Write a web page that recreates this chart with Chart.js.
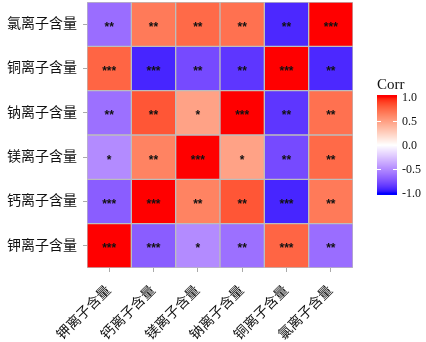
<!DOCTYPE html>
<html>
<head>
<meta charset="utf-8">
<script src="https://cdn.jsdelivr.net/npm/chart.js@4.4.1/dist/chart.umd.min.js"></script>
<style>
  html, body { margin:0; padding:0; background:#fff; }
</style>
</head>
<body>
<canvas id="heat" width="426" height="342"></canvas>
<script>
// variables, bottom-to-top on y and left-to-right on x
const ions = ['钾离子含量','钙离子含量','镁离子含量','钠离子含量','铜离子含量','氯离子含量'];

// correlation rows (row = y variable), columns in the same order as ions
const rK  = [ 1.00, -0.70, -0.50, -0.62,  0.76, -0.63];
const rCa = [-0.70,  1.00,  0.63,  0.82, -0.92,  0.67];
const rMg = [-0.50,  0.63,  1.00,  0.48, -0.78,  0.74];
const rNa = [-0.62,  0.82,  0.48,  1.00, -0.86,  0.71];
const rCu = [ 0.76, -0.92, -0.78, -0.86,  1.00, -0.91];
const rCl = [-0.63,  0.67,  0.74,  0.71, -0.91,  1.00];

// significance marks
const sK  = ['***','***','*','**','***','**'];
const sCa = ['***','***','**','**','***','**'];
const sMg = ['*','**','***','*','**','**'];
const sNa = ['**','**','*','***','**','**'];
const sCu = ['***','***','**','**','***','**'];
const sCl = ['**','**','**','**','**','***'];

const legendTicks = [1.0, 0.5, 0.0, -0.5, -1.0];

const corrRows  = [rK, rCa, rMg, rNa, rCu, rCl];
const starRows  = [sK, sCa, sMg, sNa, sCu, sCl];

// ── colour scale: white -> red / blue, interpolated in Lab ──────────
function lin(c){ c/=255; return c<=0.04045 ? c/12.92 : Math.pow((c+0.055)/1.055, 2.4); }
function gam(c){ c = c<=0.0031308 ? 12.92*c : 1.055*Math.pow(c,1/2.4)-0.055; return Math.round(Math.min(1,Math.max(0,c))*255); }
function toLab(rgb){
  const [r,g,b] = rgb.map(lin);
  const X=(0.4124*r+0.3576*g+0.1805*b)/0.95047, Y=0.2126*r+0.7152*g+0.0722*b, Z=(0.0193*r+0.1192*g+0.9505*b)/1.08883;
  const f = t => t>0.008856 ? Math.cbrt(t) : 7.787*t+16/116;
  return [116*f(Y)-16, 500*(f(X)-f(Y)), 200*(f(Y)-f(Z))];
}
function fromLab([L,a,b]){
  const fy=(L+16)/116, fx=fy+a/500, fz=fy-b/200;
  const fi = t => t*t*t>0.008856 ? t*t*t : (t-16/116)/7.787;
  const X=fi(fx)*0.95047, Y=fi(fy), Z=fi(fz)*1.08883;
  return [ 3.2406*X-1.5372*Y-0.4986*Z, -0.9689*X+1.8758*Y+0.0415*Z, 0.0557*X-0.2040*Y+1.0570*Z ].map(gam);
}
const LAB_W = toLab([255,255,255]), LAB_R = toLab([255,0,0]), LAB_B = toLab([0,0,255]);
function corrColor(v){
  const end = v>=0 ? LAB_R : LAB_B, t = Math.min(1, Math.abs(v));
  const c = fromLab(LAB_W.map((w,i)=>w+(end[i]-w)*t));
  return `rgb(${c[0]},${c[1]},${c[2]})`;
}

// ── stars on each tile ─────────────────────────────────────────────
const starPlugin = {
  id:'stars',
  afterDatasetsDraw(chart){
    const ctx = chart.ctx;
    ctx.save();
    ctx.fillStyle = '#111';
    ctx.font = 'bold 12px "Liberation Sans"';
    ctx.textAlign = 'center';
    ctx.textBaseline = 'alphabetic';
    chart.data.datasets.forEach((ds, r) => {
      chart.getDatasetMeta(r).data.forEach((el, c) => {
        const s = starRows[r][c];
        const m = ctx.measureText(s);
        const cy = (el.y + el.base)/2 + (m.actualBoundingBoxAscent - m.actualBoundingBoxDescent)/2;
        ctx.fillText(s, el.x, cy);
      });
    });
    ctx.restore();
  }
};

// ── colour bar legend ──────────────────────────────────────────────
const colorbarPlugin = {
  id:'colorbar',
  afterDraw(chart){
    const ctx = chart.ctx, ca = chart.chartArea;
    const x0 = ca.right + 24, w = 20, yTop = 97, yBot = 193;
    const yOf = v => yTop + (1 - v)/2*(yBot - yTop);
    ctx.save();
    for (let y = yTop - 2; y < yBot + 2; y++) {
      const v = Math.max(-1, Math.min(1, 1 - 2*(y + 0.5 - yTop)/(yBot - yTop)));
      ctx.fillStyle = corrColor(v);
      ctx.fillRect(x0, y, w, 1);
    }
    ctx.strokeStyle = '#fff'; ctx.lineWidth = 1;
    ctx.fillStyle = '#111';
    ctx.font = '12px "Liberation Serif"';
    ctx.textAlign = 'left'; ctx.textBaseline = 'middle';
    legendTicks.forEach(v => {
      const y = Math.round(yOf(v)) + 0.5;
      if (Math.abs(v) < 1) {
        ctx.beginPath();
        ctx.moveTo(x0, y); ctx.lineTo(x0 + 4, y);
        ctx.moveTo(x0 + w - 4, y); ctx.lineTo(x0 + w, y);
        ctx.stroke();
      }
      ctx.fillText(v.toFixed(1), x0 + w + 5, y);
    });
    ctx.font = '15px "Liberation Serif"';
    ctx.textBaseline = 'alphabetic';
    ctx.fillText('Corr', x0, 89);
    ctx.restore();
  }
};

new Chart(document.getElementById('heat').getContext('2d'), {
  type:'bar',
  data:{
    labels: ions,
    datasets: corrRows.map((row, r) => ({
      label: ions[r],
      data: row.map(() => 1),
      backgroundColor: row.map(corrColor),
      borderColor:'#bdbdbd', borderWidth:1, borderSkipped:false,
      barPercentage:1, categoryPercentage:1,
    }))
  },
  options:{
    responsive:false, animation:false,
    layout:{ padding:{ top:2, right:73, left:0, bottom:0 } },
    plugins:{ legend:{display:false}, tooltip:{enabled:false} },
    scales:{
      x:{
        stacked:true,
        border:{display:false},
        grid:{ offset:false, drawOnChartArea:false, tickLength:4, color:'#aaa' },
        ticks:{ color:'#111', font:{ size:14, lineHeight:1.9, family:'"Liberation Serif", "Noto Sans CJK SC"' }, maxRotation:45, minRotation:45, padding:7, autoSkip:false },
        afterFit(s){ s.height = 74; s.paddingLeft = 0; s.paddingRight = 0; }
      },
      y:{
        stacked:true, min:0, max:ions.length,
        border:{display:false},
        grid:{ drawOnChartArea:false, tickLength:4, color:'#aaa' },
        afterBuildTicks(s){ s.ticks = ions.map((_, i) => ({ value: i + 0.5 })); },
        ticks:{ color:'#111', font:{ size:14, family:'"Liberation Serif", "Noto Sans CJK SC"' }, padding:6,
                callback: v => ions[Math.floor(v)] },
        afterFit(s){ s.width = 87; s.paddingTop = 0; s.paddingBottom = 0; }
      }
    }
  },
  plugins:[starPlugin, colorbarPlugin]
});
</script>
</body>
</html>
